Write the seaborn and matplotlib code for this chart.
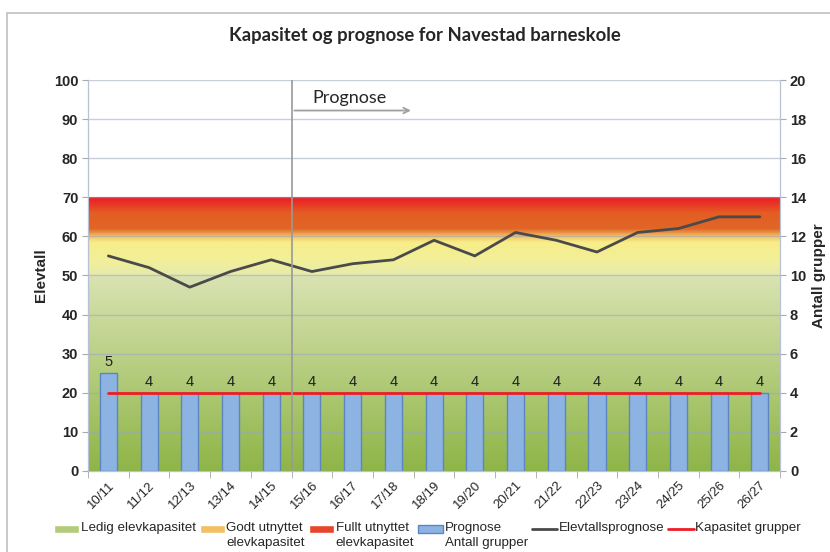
import numpy as np
import seaborn as sns
import matplotlib.pyplot as plt
from matplotlib.colors import LinearSegmentedColormap
from matplotlib.patches import Patch, Rectangle
from matplotlib.lines import Line2D
from matplotlib.legend_handler import HandlerBase

# data
seasons = ["10/11", "11/12", "12/13", "13/14", "14/15", "15/16", "16/17", "17/18", "18/19",
           "19/20", "20/21", "21/22", "22/23", "23/24", "24/25", "25/26", "26/27"]
students = [55, 52, 47, 51, 54, 51, 53, 54, 59, 55, 61, 59, 56, 61, 62, 65, 65]
groups = [5, 4, 4, 4, 4, 4, 4, 4, 4, 4, 4, 4, 4, 4, 4, 4, 4]
group_capacity = [4] * len(seasons)
band_limits = [50, 60, 70]   # ledig / godt utnyttet / fullt utnyttet
forecast_start = 4.5


class TopHandler(HandlerBase):
    # legend handle placed level with the first line of a two-line label
    def create_artists(self, legend, orig_handle, xdescent, ydescent, width, height,
                       fontsize, trans):
        yc = height / 2 - ydescent + 0.5 * fontsize
        if isinstance(orig_handle, Line2D):
            art = Line2D([-xdescent, -xdescent + width], [yc, yc])
        else:
            h = 0.6 * fontsize
            art = Rectangle((-xdescent, yc - h / 2), width, h)
        self.update_prop(art, orig_handle, legend)
        art.set_transform(trans)
        return [art]


sns.set_style("white")
plt.rcParams["font.family"] = ["Liberation Sans", "DejaVu Sans"]

fig = plt.figure(figsize=(8.3, 5.52), dpi=100)
ax = fig.add_axes([0.106, 0.147, 0.834, 0.708])
ax2 = ax.twinx()
pos = np.arange(len(seasons))

# background capacity bands as one vertical gradient
top = band_limits[-1]
nodes = [
    (0.0, (0.56, 0.71, 0.28)),
    (band_limits[0] / top - 0.001, (0.85, 0.89, 0.70)),
    (band_limits[0] / top, (0.90, 0.92, 0.68)),
    ((band_limits[0] + 4) / top, (0.95, 0.94, 0.60)),
    ((band_limits[1] - 1.5) / top, (0.97, 0.93, 0.54)),
    (band_limits[1] / top, (0.95, 0.78, 0.42)),
    ((band_limits[1] + 2) / top, (0.88, 0.40, 0.15)),
    ((band_limits[1] + 6) / top, (0.89, 0.37, 0.14)),
    (1.0, (0.93, 0.11, 0.15)),
]
cmap = LinearSegmentedColormap.from_list("bands", nodes)
grad = np.linspace(0, 1, 700).reshape(-1, 1)
ax.imshow(grad, cmap=cmap, origin="lower", aspect="auto",
          extent=[-0.5, len(seasons) - 0.5, 0, top], zorder=0)

for y in range(10, 101, 10):
    ax.axhline(y, color="#9aa6c0", lw=1, alpha=0.55, zorder=1)

sns.lineplot(x=pos, y=students, ax=ax, color="#4a4a4a", lw=2, zorder=3)

sns.barplot(x=pos, y=groups, ax=ax2, width=0.42, color="#8db3e2", saturation=1,
            edgecolor="#5b86bf", linewidth=1, zorder=2)
ax2.bar_label(ax2.containers[0], padding=3, fontsize=10.5, color="#222222")
sns.lineplot(x=pos, y=group_capacity, ax=ax2, color="#ee1c25", lw=2, zorder=4)
ax2.axvline(forecast_start, color="#999999", lw=1.2, zorder=5)

ax.text(5.0, 95.5, "Prognose", fontsize=13, family=["Lato", "DejaVu Sans"], va="center")
ax.annotate("", xy=(7.5, 92.2), xytext=(4.5, 92.2),
            arrowprops=dict(arrowstyle="->", color="#a0a0a0", lw=1.3))

ax.set_xlim(-0.5, len(seasons) - 0.5)
ax.set_ylim(0, 100)
ax2.set_ylim(0, 20)
ax.set_yticks(range(0, 101, 10))
ax2.set_yticks(range(0, 21, 2))
ax.set_yticklabels(ax.get_yticks(), fontweight="bold", fontsize=10.5)
ax2.set_yticklabels(ax2.get_yticks(), fontweight="bold", fontsize=10.5)
ax.set_xticks(pos)
ax.set_xticklabels(seasons, rotation=45, ha="right", rotation_mode="anchor",
                   fontsize=9.5, family=["Liberation Sans Narrow", "Liberation Sans"])
ax.set_xticks(np.arange(-0.5, len(seasons), 1), minor=True)
ax.tick_params(axis="x", which="major", length=0, pad=6)
ax.tick_params(axis="x", which="minor", length=5, color="#aaaaaa", bottom=True)
ax.tick_params(axis="y", length=4, color="#aaaaaa", left=True, pad=3)
ax2.tick_params(axis="y", length=4, color="#aaaaaa", right=True, pad=3)
ax2.set_xlabel("")

ax.set_ylabel("Elevtall", fontweight="bold", fontsize=11)
ax2.set_ylabel("Antall grupper", fontweight="bold", fontsize=11)

for a in (ax, ax2):
    for s in a.spines.values():
        s.set_color("#b8c2d4")
    a.spines["top"].set_visible(False)
ax.spines["left"].set_color("#888888")
ax.spines["bottom"].set_color("#888888")

fig.text(0.512, 0.935, "Kapasitet og prognose for Navestad barneskole",
         ha="center", va="center", fontsize=13.3, fontweight="bold",
         family=["Lato", "DejaVu Sans"])

handles = [
    Patch(facecolor="#b2cb7c"),
    Patch(facecolor="#f2c062"),
    Patch(facecolor="#e8462a"),
    Patch(facecolor="#8db3e2", edgecolor="#5b86bf"),
    Line2D([], [], color="#4a4a4a", lw=2),
    Line2D([], [], color="#ee1c25", lw=2),
]
labels = ["Ledig elevkapasitet\n ", "Godt utnyttet\nelevkapasitet",
          "Fullt utnyttet\nelevkapasitet", "Prognose\nAntall grupper",
          "Elevtallsprognose\n ", "Kapasitet grupper\n "]
leg = fig.legend(handles, labels, loc="lower center", bbox_to_anchor=(0.515, -0.016), ncol=6,
                 frameon=False, handlelength=1.9, handleheight=0.6, handletextpad=0.1,
                 columnspacing=0.3, handler_map={Patch: TopHandler(), Line2D: TopHandler()},
                 prop={"family": ["Liberation Sans Narrow", "Liberation Sans"], "size": 9.6})
for t in leg.get_texts():
    t.set_linespacing(1.3)

fig.patches.append(Rectangle((0.0084, -0.01), 1.0, 0.9864, transform=fig.transFigure,
                             fill=False, edgecolor="#c0c0c0", lw=1.2))

fig.savefig("out.png", dpi=100)
